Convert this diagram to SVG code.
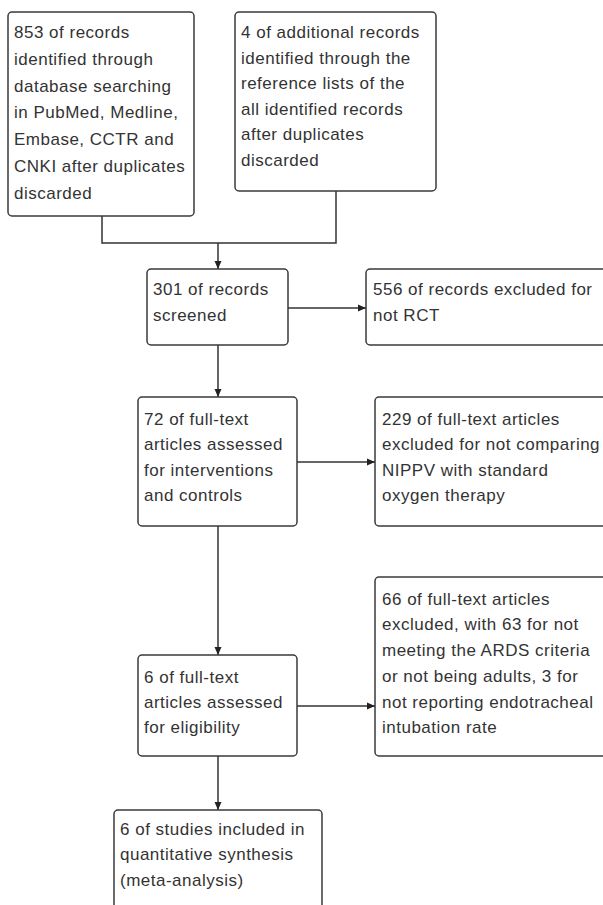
<svg xmlns="http://www.w3.org/2000/svg" width="603" height="905" viewBox="0 0 603 905">
<style>
.box{fill:#fff;stroke:#3a3a3a;stroke-width:1.5}
.t{font-family:"Liberation Sans",Arial,sans-serif;font-size:17px;fill:#333;letter-spacing:0.5px}
.c{fill:none;stroke:#333;stroke-width:1.5}
</style>
<defs>
<marker id="ah" markerWidth="9" markerHeight="9" refX="8" refY="4.5" orient="auto" markerUnits="userSpaceOnUse">
<path d="M0,1 L8,4.5 L0,8 Z" fill="#222"/>
</marker>
</defs>
<rect width="603" height="905" fill="#fff"/>
<g id="connectors">
<path class="c" d="M102,216 V243 H336 V191"/>
<path class="c" d="M218,243 V269" marker-end="url(#ah)"/>
<path class="c" d="M288,308 H366" marker-end="url(#ah)"/>
<path class="c" d="M218,345 V397" marker-end="url(#ah)"/>
<path class="c" d="M297,462 H375" marker-end="url(#ah)"/>
<path class="c" d="M218,526 V655" marker-end="url(#ah)"/>
<path class="c" d="M297,706 H375" marker-end="url(#ah)"/>
<path class="c" d="M218,756 V810" marker-end="url(#ah)"/>
</g>
<g id="n1">
<rect class="box" x="8" y="12" width="186" height="204" rx="4"/>
<text class="t" x="14" y="38">853 of records</text>
<text class="t" x="14" y="65">identified through</text>
<text class="t" x="14" y="92">database searching</text>
<text class="t" x="14" y="118">in PubMed, Medline,</text>
<text class="t" x="14" y="145">Embase, CCTR and</text>
<text class="t" x="14" y="172">CNKI after duplicates</text>
<text class="t" x="14" y="199">discarded</text>
</g>
<g id="n2">
<rect class="box" x="235" y="12" width="201" height="179" rx="4"/>
<text class="t" x="241" y="38">4 of additional records</text>
<text class="t" x="241" y="64">identified through the</text>
<text class="t" x="241" y="89">reference lists of the</text>
<text class="t" x="241" y="115">all identified records</text>
<text class="t" x="241" y="140">after duplicates</text>
<text class="t" x="241" y="166">discarded</text>
</g>
<g id="n3">
<rect class="box" x="147" y="269" width="141" height="76" rx="4"/>
<text class="t" x="153" y="295">301 of records</text>
<text class="t" x="153" y="321">screened</text>
</g>
<g id="n4">
<rect class="box" x="366" y="269" width="250" height="76" rx="4"/>
<text class="t" x="373" y="295">556 of records excluded for</text>
<text class="t" x="373" y="321">not RCT</text>
</g>
<g id="n5">
<rect class="box" x="138" y="397" width="159" height="129" rx="4"/>
<text class="t" x="144" y="425">72 of full-text</text>
<text class="t" x="144" y="450">articles assessed</text>
<text class="t" x="144" y="476">for interventions</text>
<text class="t" x="144" y="501">and controls</text>
</g>
<g id="n6">
<rect class="box" x="375" y="397" width="240" height="129" rx="4"/>
<text class="t" x="382" y="425">229 of full-text articles</text>
<text class="t" x="382" y="450">excluded for not comparing</text>
<text class="t" x="382" y="476">NIPPV with standard</text>
<text class="t" x="382" y="501">oxygen therapy</text>
</g>
<g id="n7">
<rect class="box" x="138" y="655" width="159" height="101" rx="4"/>
<text class="t" x="144" y="683">6 of full-text</text>
<text class="t" x="144" y="708">articles assessed</text>
<text class="t" x="144" y="733">for eligibility</text>
</g>
<g id="n8">
<rect class="box" x="375" y="577" width="240" height="179" rx="4"/>
<text class="t" x="382" y="605">66 of full-text articles</text>
<text class="t" x="382" y="630">excluded, with 63 for not</text>
<text class="t" x="382" y="656">meeting the ARDS criteria</text>
<text class="t" x="382" y="682">or not being adults, 3 for</text>
<text class="t" x="382" y="708">not reporting endotracheal</text>
<text class="t" x="382" y="733">intubation rate</text>
</g>
<g id="n9">
<rect class="box" x="114" y="810" width="208" height="110" rx="4"/>
<text class="t" x="120" y="835">6 of studies included in</text>
<text class="t" x="120" y="860">quantitative synthesis</text>
<text class="t" x="120" y="886">(meta-analysis)</text>
</g>
</svg>
